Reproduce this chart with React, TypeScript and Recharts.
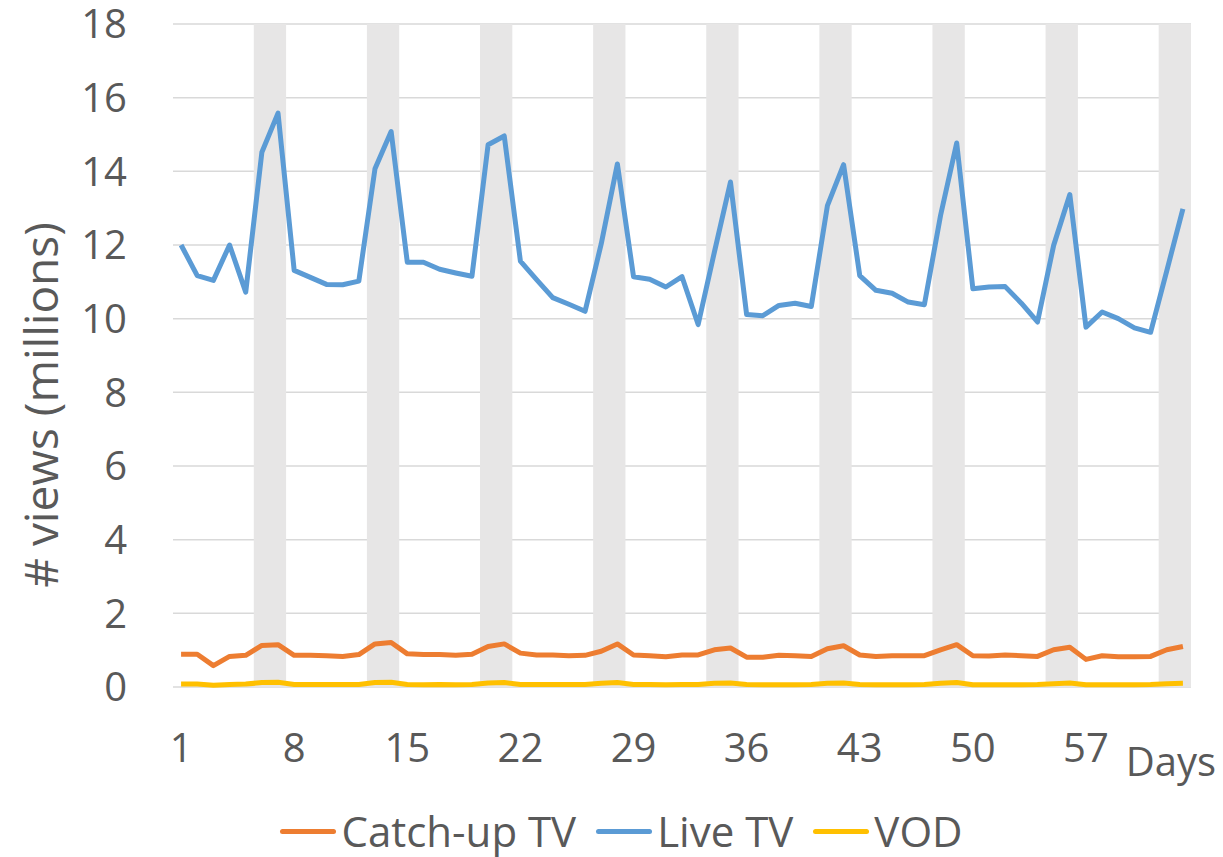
import { LineChart, Line, XAxis, YAxis, CartesianGrid, ReferenceArea, Legend } from "recharts";

const days = Array.from({ length: 63 }, (_, i) => i + 1);

const liveTV = [
  12.0, 11.17, 11.04, 12.0, 10.72, 14.52, 15.58, 11.31, 11.12, 10.93, 10.92, 11.02, 14.07, 15.08,
  11.53, 11.53, 11.34, 11.24, 11.15, 14.72, 14.96, 11.56, 11.06, 10.57, 10.39, 10.2, 12.03, 14.2,
  11.14, 11.07, 10.86, 11.14, 9.84, 11.8, 13.71, 10.11, 10.08, 10.36, 10.42, 10.33, 13.07, 14.18,
  11.17, 10.77, 10.69, 10.45, 10.38, 12.8, 14.77, 10.81, 10.86, 10.87, 10.42, 9.91, 11.99, 13.37,
  9.77, 10.18, 10.0, 9.75, 9.63, 11.3, 12.98,
];

const catchUpTV = [
  0.89, 0.89, 0.58, 0.83, 0.86, 1.13, 1.15, 0.86, 0.86, 0.85, 0.83, 0.88, 1.17, 1.21,
  0.9, 0.88, 0.88, 0.86, 0.89, 1.1, 1.17, 0.92, 0.87, 0.87, 0.85, 0.86, 0.97, 1.17,
  0.87, 0.85, 0.82, 0.87, 0.87, 1.01, 1.06, 0.81, 0.81, 0.86, 0.85, 0.83, 1.04, 1.12,
  0.87, 0.83, 0.85, 0.85, 0.85, 1.01, 1.15, 0.85, 0.84, 0.87, 0.85, 0.83, 1.01, 1.08,
  0.75, 0.85, 0.82, 0.82, 0.83, 1.01, 1.1,
];

const vod = [
  0.08, 0.08, 0.05, 0.07, 0.08, 0.12, 0.13, 0.07, 0.07, 0.07, 0.07, 0.07, 0.12, 0.13,
  0.07, 0.06, 0.07, 0.06, 0.07, 0.11, 0.12, 0.07, 0.07, 0.07, 0.07, 0.07, 0.1, 0.12,
  0.07, 0.07, 0.06, 0.07, 0.07, 0.1, 0.11, 0.07, 0.06, 0.06, 0.06, 0.07, 0.1, 0.11,
  0.07, 0.06, 0.06, 0.06, 0.07, 0.1, 0.12, 0.06, 0.06, 0.06, 0.06, 0.07, 0.09, 0.11,
  0.06, 0.06, 0.06, 0.06, 0.07, 0.09, 0.1,
];

// first day of each weekend (sat+sun shaded)
const weekendStarts = [6, 13, 20, 27, 34, 41, 48, 55, 62];

const xTicks = [1, 8, 15, 22, 29, 36, 43, 50, 57];
const yTicks = [0, 2, 4, 6, 8, 10, 12, 14, 16, 18];

const series = [
  { key: "catchUp", name: "Catch-up TV", color: "#ED7D31" },
  { key: "live", name: "Live TV", color: "#5B9BD5" },
  { key: "vod", name: "VOD", color: "#FFC000" },
];

const data = days.map((d, i) => ({
  day: d,
  live: liveTV[i],
  catchUp: catchUpTV[i],
  vod: vod[i],
}));

const FONT = "'Open Sans', sans-serif";
const TEXT = "#595959";

function LegendContent() {
  return (
    <div
      style={{
        display: "flex",
        justifyContent: "center",
        alignItems: "center",
        paddingLeft: 40,
        fontFamily: FONT,
        fontSize: 42,
        lineHeight: "50px",
        color: TEXT,
      }}
    >
      {series.map((s) => (
        <div key={s.key} style={{ display: "flex", alignItems: "center", marginRight: 20 }}>
          <span
            style={{
              display: "inline-block",
              width: 56,
              height: 5,
              borderRadius: 3,
              background: s.color,
              marginRight: 5,
            }}
          />
          <span>{s.name}</span>
        </div>
      ))}
    </div>
  );
}

export default function App() {
  return (
    <div style={{ position: "absolute", left: 0, top: 0, width: 1223, height: 857, background: "#fff" }}>
      <LineChart
        width={1223}
        height={857}
        data={data}
        margin={{ top: 24, right: 32, left: 0, bottom: 110 }}
      >
        <CartesianGrid vertical={false} stroke="#D9D9D9" strokeWidth={1.5} />
        {weekendStarts.map((d) => (
          <ReferenceArea
            key={d}
            x1={d - 0.5}
            x2={d + 1.5}
            fill="#E7E6E6"
            fillOpacity={1}
            stroke="none"
            ifOverflow="hidden"
          />
        ))}
        <XAxis
          dataKey="day"
          type="number"
          domain={[0.5, 63.5]}
          ticks={xTicks}
          interval={0}
          height={60}
          axisLine={false}
          tickLine={false}
          tickSize={0}
          tickMargin={47}
          tick={{ fill: TEXT, fontSize: 40, fontFamily: FONT }}
          label={(p: any) => {
            const vb = p.viewBox;
            return (
              <text
                x={vb.x + vb.width - 20}
                y={vb.y + 89}
                textAnchor="middle"
                fill={TEXT}
                fontSize={40}
                fontFamily={FONT}
              >
                Days
              </text>
            );
          }}
        />
        <YAxis
          domain={[0, 18]}
          ticks={yTicks}
          interval={0}
          width={173}
          axisLine={false}
          tickLine={false}
          tickSize={0}
          tickMargin={46}
          tick={{ fill: TEXT, fontSize: 40, fontFamily: FONT }}
          label={(p: any) => {
            const vb = p.viewBox;
            const cx = 40;
            const cy = vb.y + 381;
            return (
              <text
                x={cx}
                y={cy}
                transform={`rotate(-90, ${cx}, ${cy})`}
                textAnchor="middle"
                dominantBaseline="central"
                fill={TEXT}
                fontSize={46}
                fontFamily={FONT}
              >
                # views (millions)
              </text>
            );
          }}
        />
        {series.map((s) => (
          <Line
            key={s.key}
            dataKey={s.key}
            name={s.name}
            type="linear"
            stroke={s.color}
            strokeWidth={5}
            strokeLinejoin="round"
            dot={false}
            activeDot={false}
            isAnimationActive={false}
          />
        ))}
        <Legend
          layout="horizontal"
          verticalAlign="middle"
          align="center"
          wrapperStyle={{ top: 806, left: 0, width: 1223, height: 50 }}
          content={() => <LegendContent />}
        />
      </LineChart>
    </div>
  );
}
